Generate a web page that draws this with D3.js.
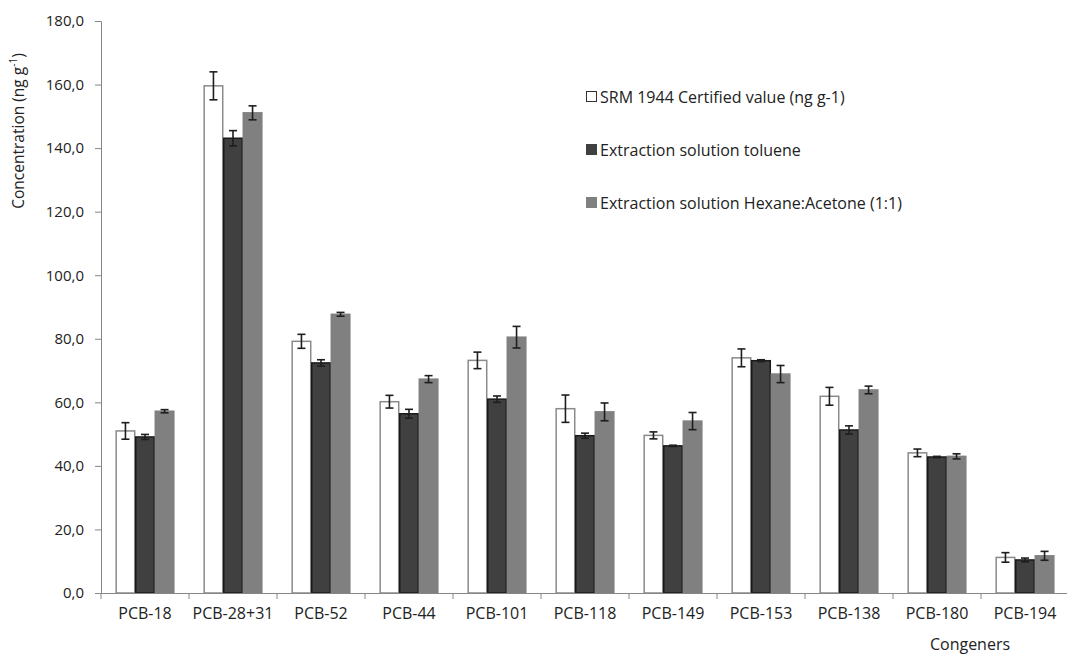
<!DOCTYPE html>
<html>
<head>
<meta charset="utf-8">
<script src="https://cdn.jsdelivr.net/npm/d3@7"></script>
<style>
  body { margin: 0; background: #fff; }
  text { font-family: "Open Sans", "Noto Sans", sans-serif; fill: #222; }
</style>
</head>
<body>
<script>
const congeners = ["PCB-18", "PCB-28+31", "PCB-52", "PCB-44", "PCB-101", "PCB-118", "PCB-149", "PCB-153", "PCB-138", "PCB-180", "PCB-194"];
const seriesNames = ["SRM 1944 Certified value (ng g-1)", "Extraction solution toluene", "Extraction solution Hexane:Acetone (1:1)"];
const certified    = [51.0, 159.6, 79.2, 60.2, 73.2, 58.0, 49.6, 74.0, 61.9, 44.1, 11.2];
const certifiedErr = [2.6, 4.4, 2.2, 2.0, 2.6, 4.3, 1.1, 2.8, 2.8, 1.2, 1.5];
const toluene      = [49.1, 143.1, 72.4, 56.4, 61.0, 49.5, 46.3, 73.1, 51.3, 42.8, 10.4];
const tolueneErr   = [0.8, 2.4, 1.0, 1.4, 1.0, 0.8, 0.2, 0.3, 1.3, 0.2, 0.6];
const hexane       = [57.2, 151.1, 87.7, 67.3, 80.5, 57.0, 54.1, 68.9, 63.9, 43.0, 11.7];
const hexaneErr    = [0.5, 2.2, 0.6, 1.1, 3.4, 2.8, 2.7, 2.7, 1.2, 0.8, 1.4];
const yTicks = [0, 20, 40, 60, 80, 100, 120, 140, 160, 180];

const W = 1067, H = 655;
const svg = d3.select("body").append("svg").attr("width", W).attr("height", H);

const x0 = 101, x1 = 1069, yTop = 21, yBot = 593;
const x = d3.scaleBand().domain(congeners).range([x0, x1]).paddingInner(0).paddingOuter(0);
const sub = d3.scaleBand().domain([0, 1, 2]).range([0, x.bandwidth()]).paddingInner(0).paddingOuter(0.75);
const y = d3.scaleLinear().domain([0, 180]).range([yBot, yTop]);

const series = [
  {vals: certified, errs: certifiedErr, fill: "#ffffff", stroke: "#8a8a8a"},
  {vals: toluene, errs: tolueneErr, fill: "#404040", stroke: "#1a1a1a"},
  {vals: hexane, errs: hexaneErr, fill: "#808080", stroke: "#808080"}
];

// y axis
const yAxis = svg.append("g")
  .attr("transform", `translate(${x0},0)`)
  .call(d3.axisLeft(y).tickValues(yTicks).tickSize(6).tickPadding(11)
    .tickFormat(d => d3.format(".1f")(d).replace(".", ",")));
yAxis.select(".domain").attr("stroke", "#868686");
yAxis.selectAll(".tick line").attr("stroke", "#868686");
yAxis.selectAll(".tick text").attr("font-size", 15).style("fill", "#222");

// bars
series.forEach((s, i) => {
  const g = svg.append("g");
  g.selectAll("rect").data(congeners).join("rect")
    .attr("x", (c) => x(c) + sub(i) + 0.5)
    .attr("y", (c, j) => y(s.vals[j]))
    .attr("width", sub.bandwidth() - 1)
    .attr("height", (c, j) => yBot - y(s.vals[j]))
    .attr("fill", s.fill)
    .attr("stroke", s.stroke)
    .attr("stroke-width", 1.5);
});

// error bars
series.forEach((s, i) => {
  const g = svg.append("g").attr("stroke", "#1e1e1e").attr("stroke-width", 1.6);
  congeners.forEach((c, j) => {
    const cx = x(c) + sub(i) + sub.bandwidth() / 2;
    const lo = y(s.vals[j] - s.errs[j]), hi = y(s.vals[j] + s.errs[j]);
    g.append("line").attr("x1", cx).attr("x2", cx).attr("y1", lo).attr("y2", hi);
    g.append("line").attr("x1", cx - 4).attr("x2", cx + 4).attr("y1", lo).attr("y2", lo);
    g.append("line").attr("x1", cx - 4).attr("x2", cx + 4).attr("y1", hi).attr("y2", hi);
  });
});

// x axis
const xAxis = svg.append("g")
  .attr("transform", `translate(0,${yBot})`)
  .call(d3.axisBottom(x).tickSize(0).tickPadding(15));
xAxis.select(".domain").attr("stroke", "#868686");
xAxis.selectAll(".tick text").attr("font-size", 16).style("fill", "#222");
xAxis.selectAll(".bound").data(congeners).join("line")
  .attr("x1", c => x(c)).attr("x2", c => x(c))
  .attr("y1", 0).attr("y2", 6).attr("stroke", "#868686");

// axis titles
svg.append("text")
  .attr("transform", "translate(24,131) rotate(-90)")
  .attr("text-anchor", "middle").attr("font-size", 15.5)
  .html('Concentration (ng g<tspan baseline-shift="super" font-size="10">-1</tspan>)');
svg.append("text").attr("x", 970).attr("y", 650).attr("text-anchor", "middle")
  .attr("font-size", 16).text("Congeners");

// legend
const leg = svg.append("g").attr("transform", "translate(586,97)");
series.forEach((s, i) => {
  const r = leg.append("g").attr("transform", `translate(0,${i * 53})`);
  r.append("rect").attr("x", 0.5).attr("y", -5.5).attr("width", 10).attr("height", 10)
    .attr("fill", s.fill).attr("stroke", i === 0 ? "#333" : s.fill);
  r.append("text").attr("x", 14).attr("y", 5.5).attr("font-size", 16).text(seriesNames[i]);
});
</script>
</body>
</html>
